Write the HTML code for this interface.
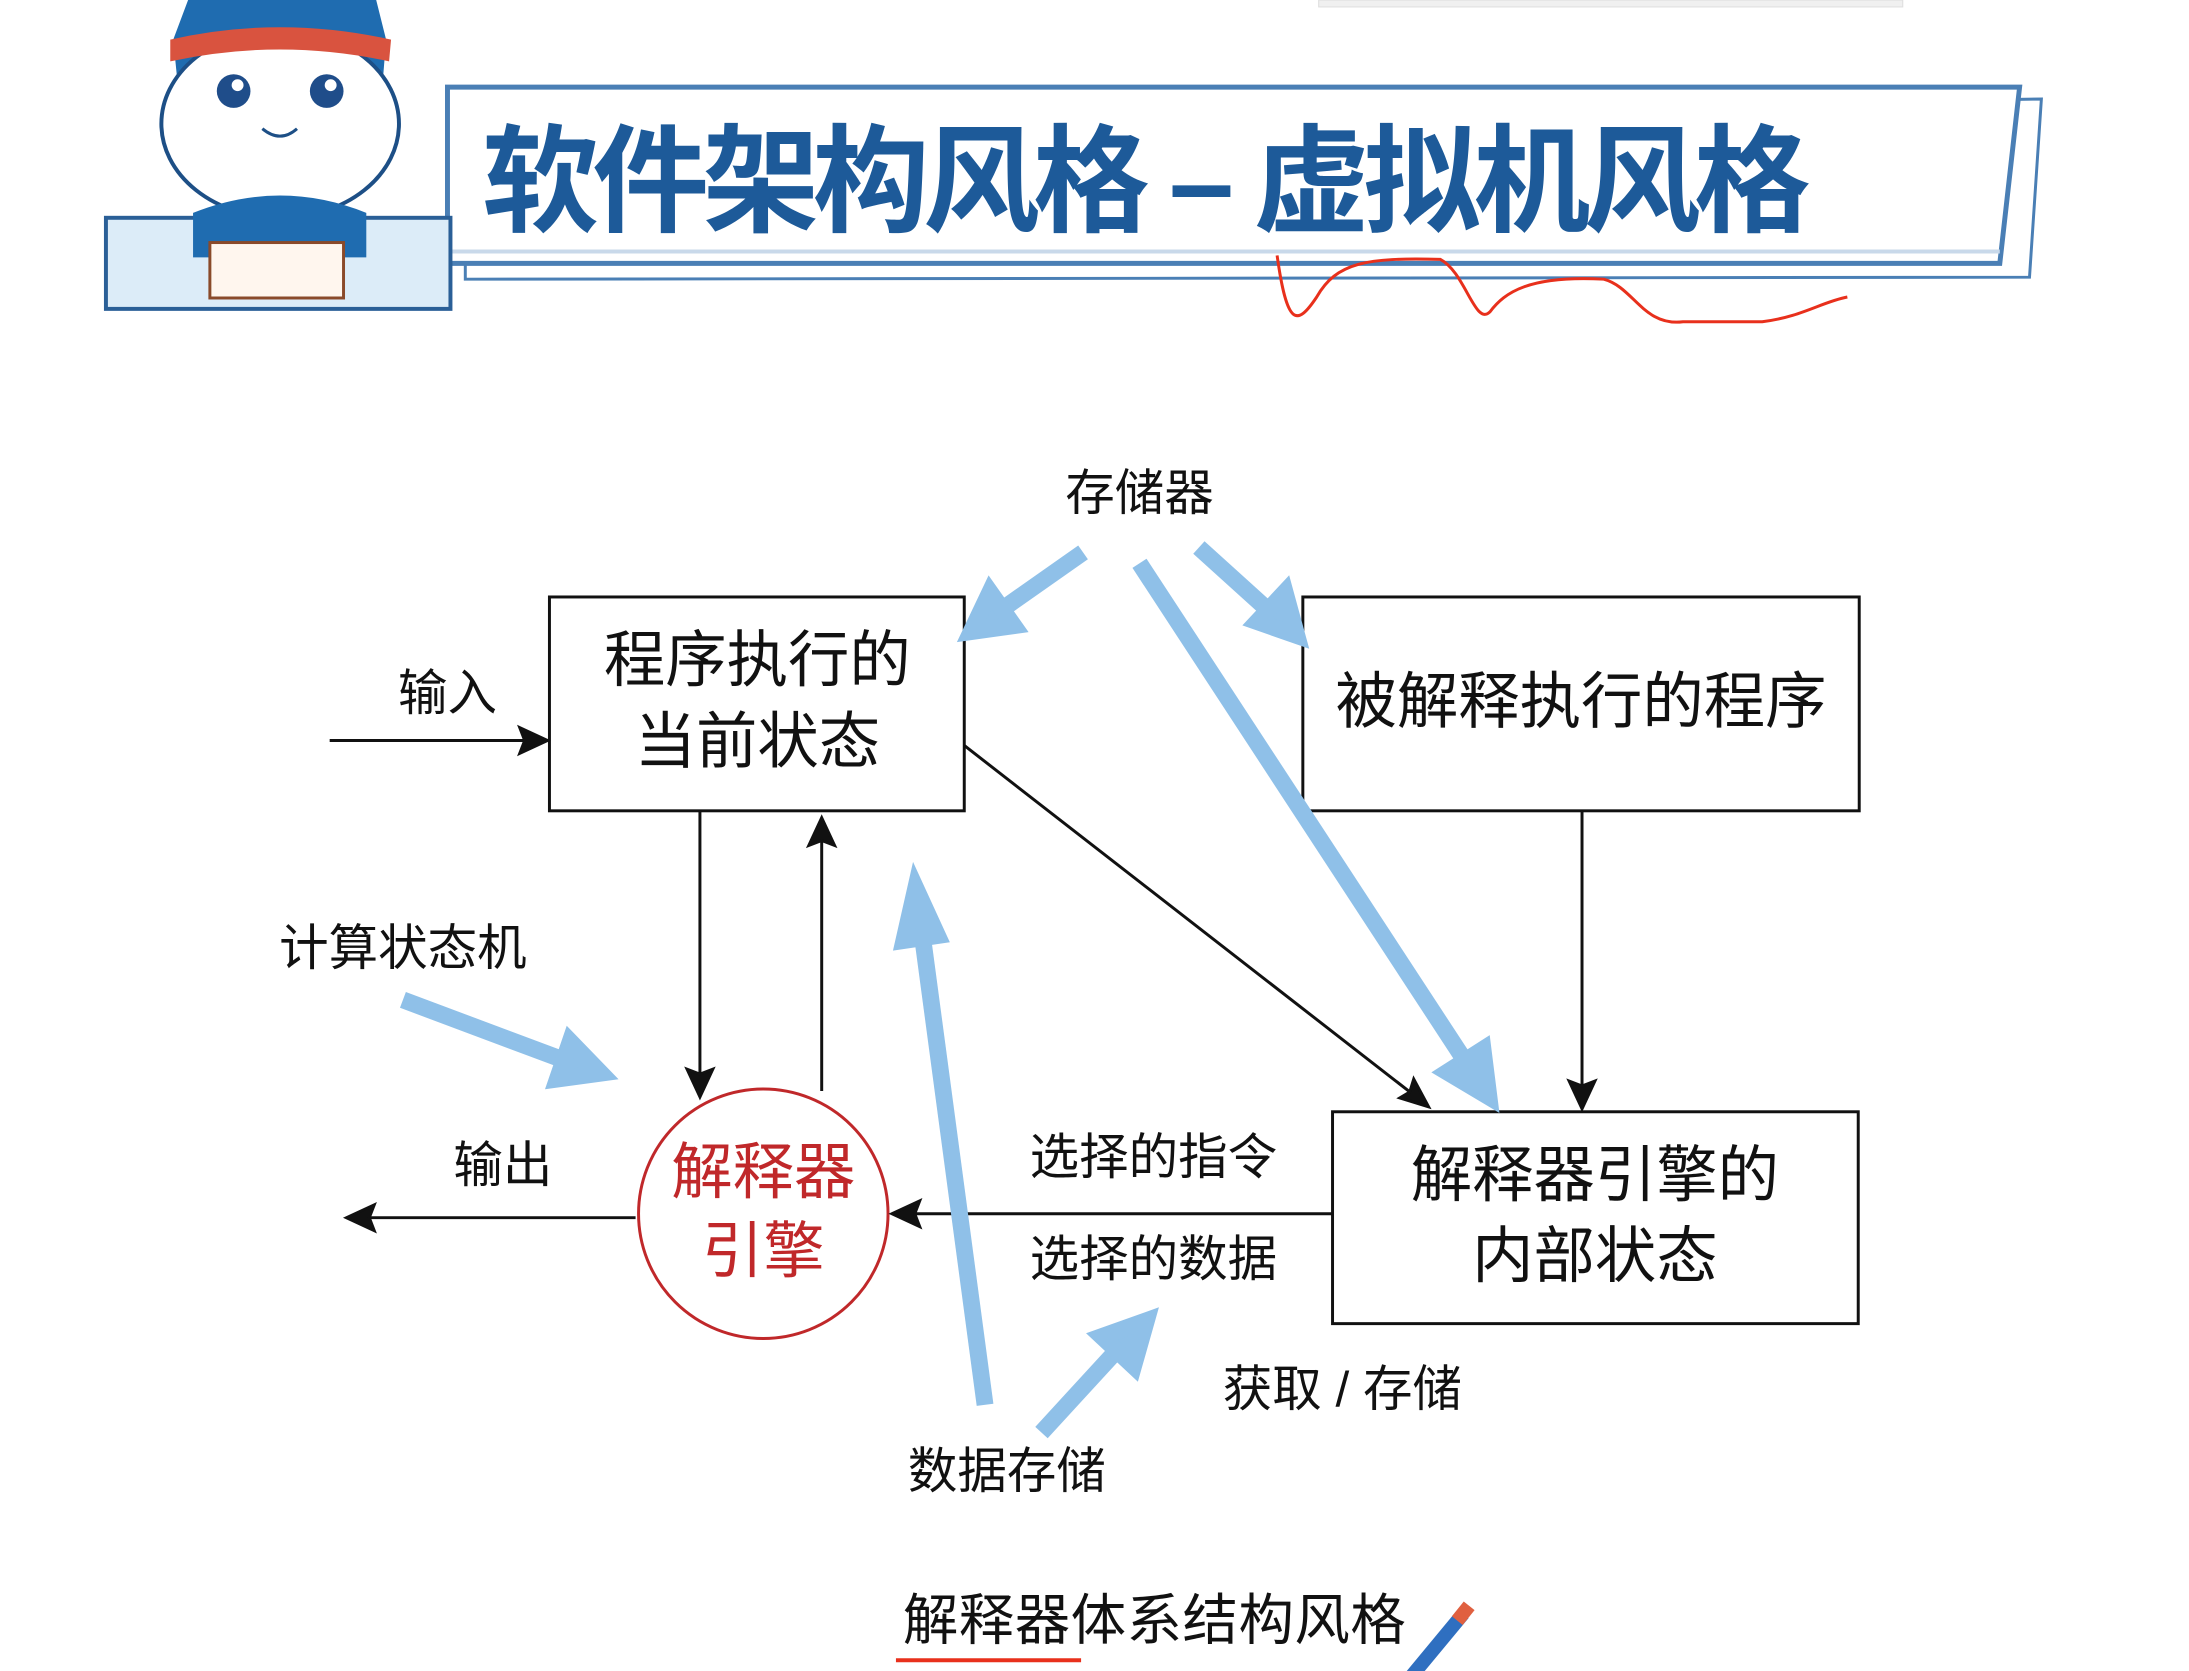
<!DOCTYPE html>
<html><head><meta charset="utf-8"><style>
html,body{margin:0;padding:0;background:#fff;}
body{width:2189px;height:1671px;position:relative;overflow:hidden;}
svg{position:absolute;left:0;top:0;}
text{font-family:"Liberation Sans","Noto Sans CJK SC",sans-serif;}
</style></head><body>
<svg width="2189" height="1671" viewBox="0 0 2189 1671" xmlns="http://www.w3.org/2000/svg">
<g transform="scale(0.99)">
<rect x="1332" y="0" width="590" height="7" fill="#f0f0f0" stroke="#ddd"/>
<polygon points="470,126 2062,100 2050,280 470,282" fill="#fff" stroke="#4a7fb5" stroke-width="3"/>
<polygon points="452,88 2040,88 2020,266 452,266" fill="#fff" stroke="#4a7fb5" stroke-width="5"/>
<line x1="452" y1="254" x2="2020" y2="254" stroke="#c9d9ea" stroke-width="4"/>
<text x="487" y="225" font-size="118" font-weight="bold" fill="#1d5a99" textLength="1342">软件架构风格 – 虚拟机风格</text>
<path d="M1290,258 C1300,330 1310,330 1330,300 C1350,265 1380,260 1455,262 C1480,275 1490,330 1505,315 C1520,295 1545,278 1620,282 C1650,290 1660,330 1700,325 L1780,325 C1820,320 1840,305 1866,300" fill="none" stroke="#e8301c" stroke-width="3"/>
<rect x="107" y="220" width="348" height="92" fill="#dcecf8" stroke="#2a5f97" stroke-width="4"/>
<path d="M190,0 L175,40 L180,90 L386,90 L390,40 L380,0 Z" fill="#1f6cb0"/>
<ellipse cx="283" cy="125" rx="120" ry="95" fill="#fff" stroke="#1d4f86" stroke-width="4"/>
<path d="M172,40 Q283,15 395,40 L393,62 Q283,38 172,62 Z" fill="#d9533f"/>
<circle cx="236" cy="92" r="17" fill="#1f4d8a"/><circle cx="330" cy="92" r="17" fill="#1f4d8a"/>
<circle cx="240" cy="86" r="6" fill="#fff"/><circle cx="334" cy="86" r="6" fill="#fff"/>
<path d="M265,130 Q283,145 300,130" stroke="#1d4f86" stroke-width="3" fill="none"/>
<path d="M195,215 Q283,180 370,215 L370,260 L195,260 Z" fill="#1f6cb0"/>
<rect x="212" y="245" width="135" height="56" fill="#fff6ee" stroke="#8a4a2a" stroke-width="3"/>
<g fill="#fff" stroke="#111" stroke-width="3">
<rect x="555" y="603" width="419" height="216"/>
<rect x="1316" y="603" width="562" height="216"/>
<rect x="1346" y="1123" width="531" height="214"/>
</g>
<circle cx="771" cy="1226" r="126" fill="#fff" stroke="#c0282a" stroke-width="3"/>
<g font-size="62" fill="#111" text-anchor="middle">
<text x="765" y="688">程序执行的</text>
<text x="765" y="770">当前状态</text>
<text x="1597" y="730">被解释执行的程序</text>
<text x="1611" y="1208">解释器引擎的</text>
<text x="1611" y="1290">内部状态</text>
</g>
<g font-size="62" fill="#c0282a" text-anchor="middle">
<text x="771" y="1205">解释器</text>
<text x="771" y="1285">引擎</text>
</g>
<g stroke="#111" stroke-width="3" fill="#111">
<line x1="333" y1="748" x2="535" y2="748"/><polygon points="553,748 525,735 530,748 525,761"/>
<line x1="707" y1="819" x2="707" y2="1090"/><polygon points="707,1108 694,1080 707,1085 720,1080"/>
<line x1="830" y1="1102" x2="830" y2="845"/><polygon points="830,826 817,854 830,849 843,854"/>
<line x1="974" y1="753" x2="1428" y2="1106"/><polygon points="1443,1118 1414,1109 1424,1103 1428,1090"/>
<line x1="1598" y1="819" x2="1598" y2="1100"/><polygon points="1598,1120 1585,1092 1598,1097 1611,1092"/>
<line x1="1346" y1="1226" x2="920" y2="1226"/><polygon points="901,1226 929,1213 924,1226 929,1239"/>
<line x1="642" y1="1230" x2="370" y2="1230"/><polygon points="350,1230 378,1217 373,1230 378,1243"/>
</g>
<g stroke="#8fc0e8" stroke-width="17" fill="#8fc0e8" stroke-linecap="butt">
<line x1="1094" y1="558" x2="1010" y2="617"/><polygon points="981,638 1000,598 1024,632"/>
<line x1="1211" y1="553" x2="1285" y2="620"/><polygon points="1310,642 1270,628 1298,598"/>
<line x1="1151" y1="569" x2="1482" y2="1075"/><polygon points="1504,1108 1462,1083 1498,1060"/>
<line x1="407" y1="1010" x2="570" y2="1071"/><polygon points="607,1084 563,1090 576,1052"/>
<line x1="995" y1="1419" x2="931" y2="940"/><polygon points="925,897 947,945 913,950"/>
<line x1="1052" y1="1447" x2="1130" y2="1362"/><polygon points="1158,1334 1145,1380 1113,1350"/>
</g>
<g font-size="50" fill="#111">
<text x="1151" y="515" text-anchor="middle">存储器</text>
<text x="452" y="717" text-anchor="middle">输入</text>
<text x="407" y="975" text-anchor="middle">计算状态机</text>
<text x="508" y="1194" text-anchor="middle">输出</text>
<text x="1165" y="1186" text-anchor="middle">选择的指令</text>
<text x="1165" y="1289" text-anchor="middle">选择的数据</text>
<text x="1356" y="1420" text-anchor="middle">获取 / 存储</text>
<text x="1017" y="1503" text-anchor="middle">数据存储</text>
</g>
<text x="912" y="1656" font-size="56" fill="#111" textLength="508">解释器体系结构风格</text>
<line x1="905" y1="1677" x2="1092" y2="1677" stroke="#e8301c" stroke-width="4"/>
<line x1="1420" y1="1700" x2="1478" y2="1630" stroke="#2f6fc0" stroke-width="14"/>
<line x1="1472" y1="1637" x2="1484" y2="1622" stroke="#e06040" stroke-width="14"/>
</g>
</svg>
</body></html>
